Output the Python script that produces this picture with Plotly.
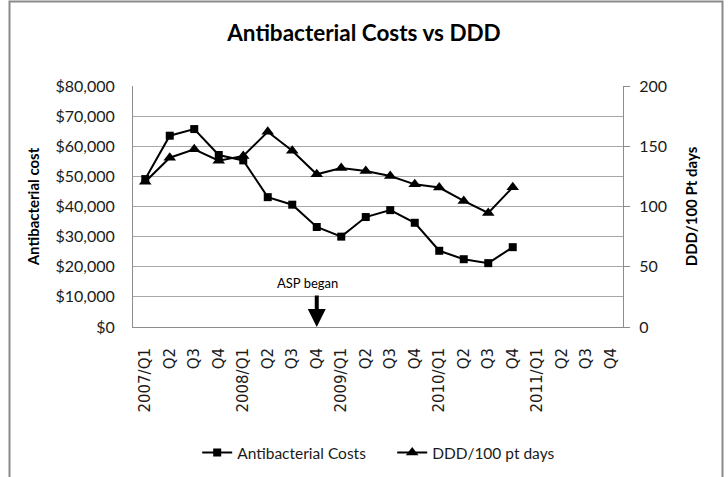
import plotly.graph_objects as go

categories = [f"{y}/Q{q}" for y in (2007, 2008, 2009, 2010, 2011) for q in (1, 2, 3, 4)]
tick_labels = ["2007/Q1", "Q2", "Q3", "Q4", "2008/Q1", "Q2", "Q3", "Q4",
               "2009/Q1", "Q2", "Q3", "Q4", "2010/Q1", "Q2", "Q3", "Q4",
               "2011/Q1", "Q2", "Q3", "Q4"]
data_quarters = categories[:16]
antibacterial_costs = [49100, 63500, 65700, 57100, 55300, 43100, 40600, 33200,
                       30000, 36500, 38800, 34600, 25300, 22500, 21200, 26500]
ddd_per_100 = [120.5, 140.5, 147.5, 138, 142, 162, 146.3, 126.7,
               132, 129.5, 125.3, 118.4, 115.7, 104.6, 94.6, 116]

FONT = "Lato"
GRID = "#a8a8a8"
AX = "#8c8c8c"

fig = go.Figure()
fig.add_trace(go.Scatter(
    x=data_quarters, y=antibacterial_costs, name="Antibacterial Costs",
    mode="lines+markers", line=dict(color="black", width=2),
    marker=dict(symbol="square", size=8, color="black"), yaxis="y"))
fig.add_trace(go.Scatter(
    x=data_quarters, y=ddd_per_100, name="DDD/100 pt days",
    mode="lines+markers", line=dict(color="black", width=2),
    marker=dict(symbol="triangle-up", size=11, color="black"), yaxis="y2"))

fig.update_layout(
    width=728, height=477,
    margin=dict(l=133, r=105, t=86, b=150, autoexpand=False),
    paper_bgcolor="white", plot_bgcolor="white",
    font=dict(family=FONT, color="#1a1a1a"),
    title=dict(text="Antibacterial Costs vs DDD", x=0.5, xanchor="center",
               y=1 - 33 / 477, yanchor="middle", yref="container",
               font=dict(family=FONT, size=22.5, weight="bold", color="black")),
    xaxis=dict(type="category", categoryorder="array", categoryarray=categories,
               range=[-0.5, 19.5], tickmode="array", tickvals=categories,
               ticktext=tick_labels, tickangle=-90, showgrid=False,
               showline=True, linecolor=AX, linewidth=1, ticks="",
               ticklabelstandoff=14,
               tickfont=dict(family="DejaVu Sans", size=15, color="#1a1a1a")),
    yaxis=dict(range=[0, 80000], dtick=10000, tickprefix="$", tickformat=",",
               showgrid=True, gridcolor=GRID, gridwidth=1,
               showline=True, linecolor=AX, linewidth=1, zeroline=False,
               ticks="", ticklabelstandoff=14,
               tickfont=dict(family=FONT, size=16, color="#1a1a1a"),
               title=dict(text="Antibacterial cost", standoff=12,
                          font=dict(family=FONT, size=15, weight="bold", color="black"))),
    yaxis2=dict(range=[0, 200], dtick=50, overlaying="y", side="right",
                showgrid=False, showline=True, linecolor=AX, linewidth=1,
                zeroline=False, ticks="outside", ticklen=6, tickcolor=AX,
                ticklabelstandoff=6,
                tickfont=dict(family=FONT, size=16, color="#1a1a1a"),
                title=dict(text="DDD/100 Pt days", standoff=20,
                           font=dict(family=FONT, size=15, weight="bold", color="black"))),
    legend=dict(orientation="h", x=0.131, y=-0.523, xanchor="left", yanchor="middle",
                entrywidth=150, entrywidthmode="pixels",
                font=dict(family=FONT, size=15.5, color="#1a1a1a"),
                bgcolor="rgba(0,0,0,0)"),
    showlegend=True,
)

# "ASP began" marker
fig.add_annotation(x="2008/Q4", y=0, xref="x", yref="y", text="", showarrow=True,
                   ax=0, ay=-33, arrowhead=2, arrowsize=0.9, arrowwidth=4,
                   arrowcolor="black", standoff=0)
fig.add_annotation(x="2008/Q4", y=14600, xref="x", yref="y", text="ASP began",
                   showarrow=False, xshift=-9, yanchor="middle",
                   font=dict(family=FONT, size=13, color="black"))

# chart border
fig.add_shape(type="rect", xref="paper", yref="paper",
              x0=(9.5 - 133) / 490, x1=(722.5 - 133) / 490,
              y0=(327 - 490) / 241, y1=(327 - 1.5) / 241,
              line=dict(color="#8a8a8a", width=2), fillcolor="rgba(0,0,0,0)",
              layer="above")

fig.write_html("out.html", config={"displayModeBar": False},
               post_script="document.body.style.margin='0';")
